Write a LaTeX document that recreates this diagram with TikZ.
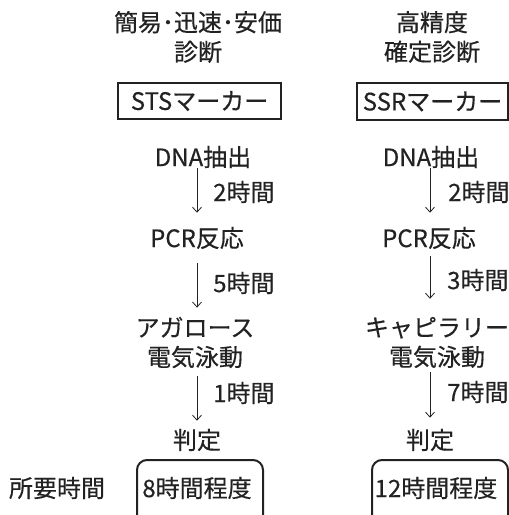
\documentclass[tikz,border=0pt]{standalone}
\usepackage{fontspec}
\setmainfont[FakeBold=0.4]{Noto Sans CJK JP}
\usetikzlibrary{arrows.meta}
\definecolor{ink}{HTML}{222222}
\begin{document}
\begin{tikzpicture}[x=1pt,y=-1pt,
  txt/.style={inner sep=0pt,text=ink,font=\fontsize{24}{29.5}\selectfont,align=center},
  box/.style={draw=ink,line width=2pt,inner sep=0pt,text=ink,font=\fontsize{24}{29.5}\selectfont},
  rbox/.style={draw=ink,line width=2pt,rounded corners=10pt,inner sep=0pt},
  arr/.style={draw=ink,line width=0.8pt,-{Straight Barb[length=5pt,width=9pt]}}]
\useasboundingbox (0,0) rectangle (509,515);
\clip (0,0) rectangle (509,515);
% headers
\node[txt] (t1) at (198,37) {簡易･迅速･安価\\診断};
\node[txt] (t2) at (432,37) {高精度\\確定診断};
% marker boxes
\node[box,minimum width=163pt,minimum height=36pt] (m1) at (199.5,101) {STSマーカー};
\node[box,minimum width=151pt,minimum height=37pt] (m2) at (432.5,101.5) {SSRマーカー};
% steps left
\node[txt] (d1) at (203,157) {DNA抽出};
\node[txt] (p1) at (197,238) {PCR反応};
\node[txt] (a1) at (195,342.5) {アガロース\\電気泳動};
\node[txt] (j1) at (197,440) {判定};
% steps right
\node[txt] (d2) at (431,157) {DNA抽出};
\node[txt] (p2) at (429,238) {PCR反応};
\node[txt] (a2) at (437,342.5) {キャピラリー\\電気泳動};
\node[txt] (j2) at (430,440) {判定};
% arrows left
\draw[arr,shorten <=0pt,shorten >=14pt] (d1.south -| p1.north) -- (p1.north);
\draw[arr,shorten <=14pt,shorten >=9pt] (p1.south) -- (a1.north -| p1.south);
\draw[arr,shorten <=8pt,shorten >=8pt] (a1.south -| j1.north) -- (j1.north);
% arrows right
\draw[arr,shorten <=0pt,shorten >=14pt] (d2.south -| j2.north) -- (p2.north -| j2.north);
\draw[arr,shorten <=7pt,shorten >=18pt] (p2.south -| j2.north) -- (a2.north -| j2.north);
\draw[arr,shorten <=4pt,shorten >=11pt] (a2.south -| j2.north) -- (j2.north);
% time labels
\node[txt,anchor=west] (l1) at (213,192) {2時間};
\node[txt,anchor=west] (l2) at (213,283) {5時間};
\node[txt,anchor=west] (l3) at (213,393) {1時間};
\node[txt,anchor=west] (l4) at (448,192) {2時間};
\node[txt,anchor=west] (l5) at (447,280) {3時間};
\node[txt,anchor=west] (l6) at (447,392) {7時間};
% totals
\node[txt] (s) at (57,488) {所要時間};
\node[rbox,minimum width=126pt,minimum height=80pt] (b1) at (200,500) {};
\node[rbox,minimum width=136pt,minimum height=80pt] (b2) at (440,500) {};
\node[txt] (r1) at (197,488) {8時間程度};
\node[txt] (r2) at (436,488) {12時間程度};
\end{tikzpicture}
\end{document}
